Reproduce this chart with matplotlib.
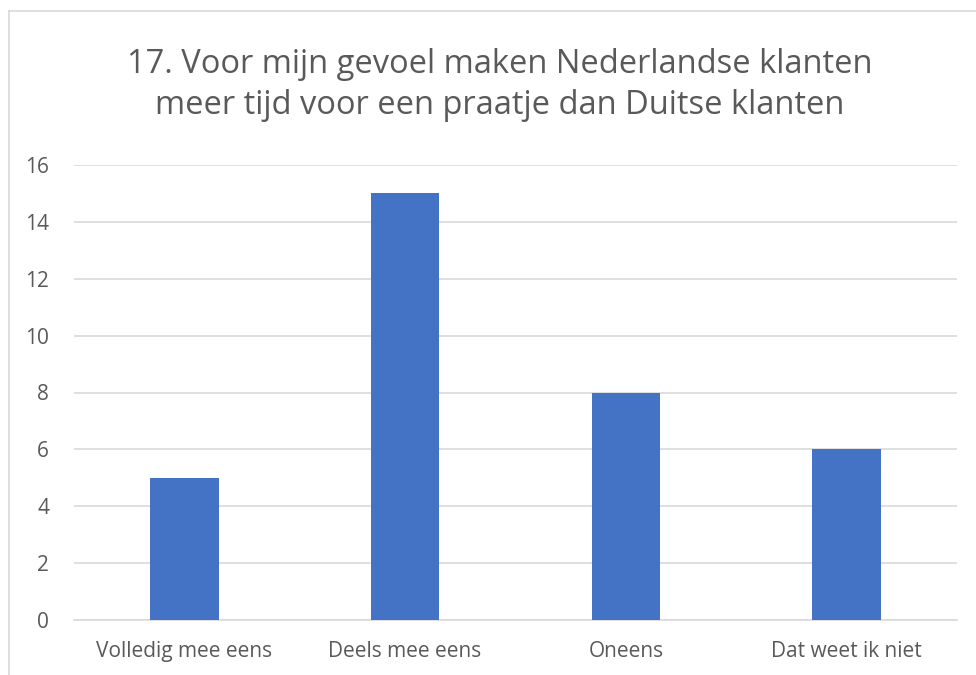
import matplotlib
matplotlib.use('Agg')
import matplotlib.pyplot as plt
from matplotlib.lines import Line2D

categories = ['Volledig mee eens', 'Deels mee eens', 'Oneens', 'Dat weet ik niet']
counts = [5, 15, 8, 6]
y_ticks = [0, 2, 4, 6, 8, 10, 12, 14, 16]
title = '17. Voor mijn gevoel maken Nederlandse klanten\nmeer tijd voor een praatje dan Duitse klanten'

BAR_COLOR = '#4472C4'
TEXT_COLOR = '#595959'
GRID_COLOR = '#D9D9D9'

plt.rcParams['font.family'] = ['Open Sans', 'DejaVu Sans']

W, H = 976, 675
fig = plt.figure(figsize=(W / 100, H / 100), dpi=100)

# plot area in pixel coordinates (left, right, top, bottom)
left, right, top, bottom = 74, 957, 165, 620
ax = fig.add_axes([left / W, 1 - bottom / H, (right - left) / W, (bottom - top) / H])

x = range(len(categories))
ax.bar(x, counts, width=0.31, color=BAR_COLOR, zorder=3)

ax.set_xlim(-0.5, len(categories) - 0.5)
ax.set_ylim(0, 16)
ax.set_yticks(y_ticks)
ax.set_xticks(list(x))
ax.set_xticklabels(categories)
ax.yaxis.grid(True, color=GRID_COLOR, linewidth=1.2, zorder=0)
ax.set_axisbelow(True)

for side in ['top', 'right', 'left']:
    ax.spines[side].set_visible(False)
ax.spines['bottom'].set_color(GRID_COLOR)
ax.spines['bottom'].set_linewidth(1.2)

ax.tick_params(axis='both', length=0, colors=TEXT_COLOR, labelsize=15)
ax.tick_params(axis='y', pad=18)
ax.tick_params(axis='x', pad=15)

# title is centred on the full chart box, which runs past the right edge of the picture
fig.text(500 / W, 1 - 85 / H, title, ha='center', va='center', fontsize=23.5,
         color=TEXT_COLOR, linespacing=1.35)

# chart border (only left and top edges are inside the picture)
bx, by = 8.5 / W, 1 - 10.5 / H
fig.add_artist(Line2D([bx, bx], [0, by], transform=fig.transFigure, color='#D9D9D9', linewidth=1.2))
fig.add_artist(Line2D([bx, 1], [by, by], transform=fig.transFigure, color='#D9D9D9', linewidth=1.2))

fig.savefig('out.png', dpi=100)
